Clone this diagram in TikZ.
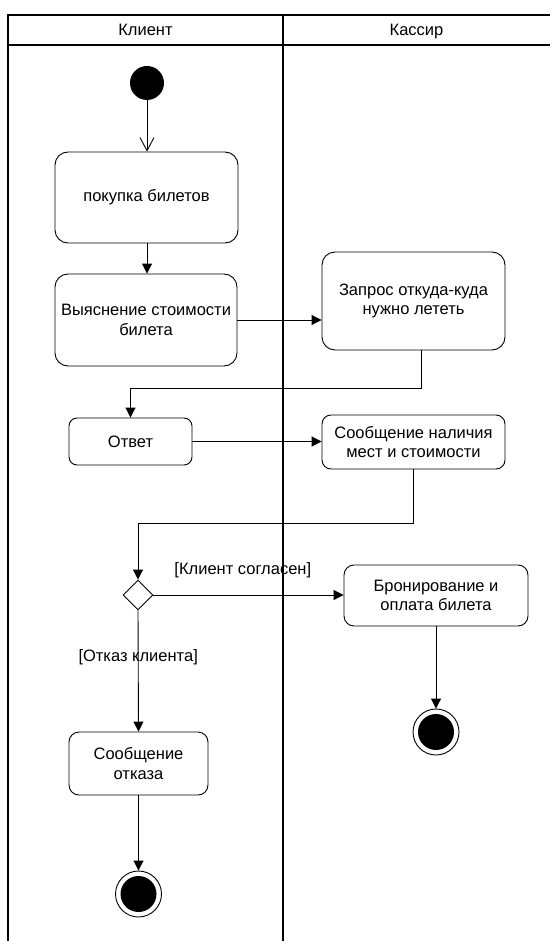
\documentclass[tikz,border=0pt]{standalone}
\usepackage{fontspec}
\setmainfont{Liberation Sans}
\usetikzlibrary{arrows.meta,shapes.geometric}

\begin{document}
\begin{tikzpicture}[x=1pt, y=-1pt, font=\fontsize{16.5}{19.5}\selectfont,
     action/.style={draw, rounded corners=#1, align=center, inner sep=0pt, line width=0.9pt},
     action/.default=13pt,
     start/.style={circle, fill=black, minimum size=34pt, inner sep=0pt},
     finish/.style={circle, draw, line width=0.9pt, minimum size=46pt, inner sep=0pt,
          path picture={\fill (path picture bounding box.center) circle (18pt);}},
     choice/.style={draw, diamond, shape aspect=1, minimum size=30pt, inner sep=0pt, line width=0.9pt},
     flow/.style={-{Triangle[length=10pt,width=10pt]}, line width=0.9pt},
     lane/.style={line width=1.3pt}]

   \useasboundingbox (0,0) rectangle (550,941);

   % swimlanes
   \draw[lane] (550,15) -- (8,15) -- (8,941);
   \draw[lane] (8,45) -- (550,45);
   \draw[lane] (283,15) -- (283,941);
   \node[anchor=base] (client) at (145.5,35.5) {Клиент};
   \node[anchor=base] (cashier) at (416.5,35.5) {Кассир};

   \node[start] (init) at (147,83) {};
   \node[action, minimum width=183pt, minimum height=91pt] (buy) at (146.5,197.5) {покупка билетов};
   \node[action, minimum width=182pt, minimum height=92pt] (cost) at (146,320) {Выяснение стоимости\\билета};
   \node[action, minimum width=183pt, minimum height=98pt] (query) at (413.5,301) {Запрос откуда-куда\\нужно лететь};
   \node[action=8pt, minimum width=123pt, minimum height=47pt] (answer) at (130.5,441.5) {Ответ};
   \node[action=9pt, minimum width=183pt, minimum height=54pt] (avail) at (413.5,442) {Сообщение наличия\\мест и стоимости};
   \node[choice] (decide) at (138,595) {};
   \node[action=10pt, minimum width=184pt, minimum height=61pt] (book) at (436,595.5) {Бронирование и\\оплата билета};
   \node[action=10pt, minimum width=139pt, minimum height=63pt] (refuse) at (138.5,763.5) {Сообщение\\отказа};
   \node[finish] (endref) at (138.5,894) {};
   \node[finish] (endbook) at (436,732) {};

   \draw[-{Straight Barb[length=13pt,width=14pt]}, line width=0.9pt] (init) -- (buy.north -| init);
   \draw[flow] (buy.south -| init) -- (cost.north -| init);
   \draw[flow] (cost.east) -- (cost.east -| query.west);
   \draw[flow] ([xshift=7.5pt]query.south) -- ++(0,38) -| (answer.north);
   \draw[flow] (answer.east) -- (answer.east -| avail.west);
   \draw[flow] (avail.south) -- ++(0,54) -| (decide.north);
   \draw[flow] (decide.east) -- (decide.east -| book.west)
        node[pos=0.47, above=13pt] (agree) {[Клиент согласен]};
   \draw[flow] (decide.south) -- (refuse.north)
        node[pos=0.39] (deny) {[Отказ клиента]};
   \draw[flow] (refuse.south) -- (endref.north);
   \draw[flow] (book.south) -- (endbook.north);
\end{tikzpicture}
\end{document}
